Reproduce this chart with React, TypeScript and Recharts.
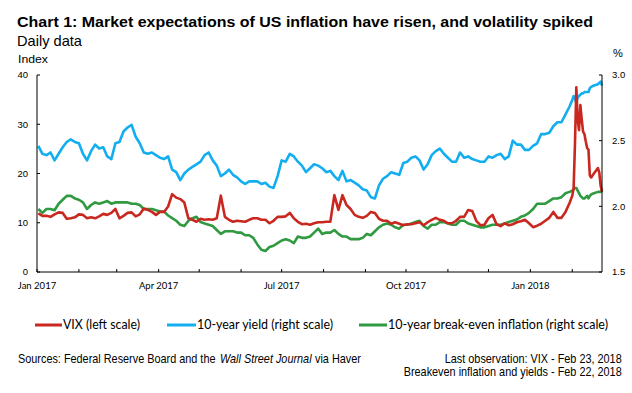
import { LineChart, Line, XAxis, YAxis } from 'recharts';

// day 0 = 1 Jan 2017
const days = [
  1, 4, 7, 10, 13, 16, 19, 22, 25, 28, 31, 34, 37, 40, 43, 46, 49, 52, 55, 58,
  61, 64, 67, 70, 73, 76, 79, 82, 85, 88, 91, 94, 97, 100, 103, 106, 109, 112,
  115, 118, 121, 124, 127, 130, 133, 136, 139, 142, 145, 148, 151, 154, 157, 160,
  163, 166, 169, 172, 175, 178, 181, 184, 187, 190, 193, 196, 199, 202, 205, 208, 211, 214,
  217, 220, 223, 226, 229, 232, 235, 238, 241, 244, 247, 250, 253, 256, 259, 262,
  265, 268, 271, 274, 277, 280, 283, 286, 289, 292, 295, 298, 301, 304, 307, 310, 313, 316,
  319, 322, 325, 328, 331, 334, 337, 340, 343, 346, 349, 352, 355, 358, 361, 364,
  367, 370, 373, 376, 379, 382, 385, 388, 391,
  394, 396, 397, 398, 399, 400, 401, 402, 403, 404, 405, 406, 407, 408, 409, 410,
  412, 415, 416, 417, 418,
];

const vix = [
  11.9, 11.4, 11.4, 11.2, 11.7, 12.1, 12.0, 10.8, 10.9, 11.1,
  11.7, 11.6, 10.9, 11.1, 10.9, 11.3, 11.8, 11.6, 12.0, 12.8,
  10.9, 11.4, 12.0, 12.1, 11.3, 11.7, 12.9, 12.6, 12.2, 11.6,
  12.2, 12.2, 13.3, 15.8, 15.1, 14.8, 14.1, 10.9,
  10.6, 10.2, 10.8, 10.6, 10.7, 10.6, 10.9, 15.5, 11.2, 10.6,
  10.2, 10.4, 10.3, 10.2, 10.6, 10.9, 10.9, 10.6, 10.6, 9.9,
  10.4, 11.2, 11.2, 11.3, 12.0, 10.9, 10.2, 9.7, 9.8, 9.6,
  9.9, 10.1, 10.1, 10.2,
  10.2, 15.6, 12.6, 15.6, 13.6, 12.8, 11.6, 11.2, 11.0, 11.4,
  12.2, 12.0, 10.8, 10.4, 10.4, 9.8, 10.1, 9.8, 9.5, 9.7,
  9.7, 9.9, 10.1, 9.5, 10.1, 10.6, 11.0, 10.6, 10.4, 9.9,
  9.9, 10.4, 11.2, 11.2,
  12.6, 12.4, 10.4, 9.5, 9.6, 10.9, 11.6, 9.7, 9.3, 9.9,
  9.5, 9.7, 10.1, 10.3, 10.6, 9.9, 9.1, 9.4, 9.8, 10.4,
  11.0, 12.2, 11.0, 11.0, 12.2,
  14.0, 15.5, 17.0, 26.0, 37.5, 31.0, 28.8, 33.9, 31.0, 28.5,
  28.0, 26.5, 25.2, 24.8, 19.6, 19.2, 20.0, 21.1, 20.2, 17.5,
  16.3,
];

const tenYearYield = [
  2.46, 2.40, 2.39, 2.41, 2.35, 2.40, 2.45, 2.49, 2.51, 2.49,
  2.48, 2.40, 2.35, 2.42, 2.47, 2.44, 2.45, 2.38, 2.36, 2.48,
  2.49, 2.57, 2.60, 2.62, 2.53, 2.48, 2.41, 2.40, 2.41, 2.39,
  2.37, 2.36, 2.38, 2.28, 2.26, 2.20, 2.25, 2.28,
  2.30, 2.32, 2.34, 2.39, 2.41, 2.35, 2.31, 2.23, 2.25, 2.28,
  2.24, 2.22, 2.19, 2.17, 2.19, 2.19, 2.19, 2.17, 2.18, 2.15,
  2.14, 2.23, 2.35, 2.34, 2.40, 2.38, 2.34, 2.31, 2.26, 2.29,
  2.32, 2.31, 2.29, 2.26,
  2.27, 2.23, 2.20, 2.27, 2.19, 2.20, 2.18, 2.16, 2.13, 2.12,
  2.07, 2.06, 2.16, 2.21, 2.23, 2.26, 2.25, 2.24, 2.33, 2.34,
  2.37, 2.38, 2.35, 2.28, 2.32, 2.39, 2.42, 2.44, 2.40, 2.37,
  2.34, 2.34, 2.41, 2.37,
  2.38, 2.36, 2.35, 2.34, 2.34, 2.38, 2.37, 2.39, 2.40, 2.36,
  2.38, 2.50, 2.47, 2.47, 2.43, 2.43, 2.46, 2.48, 2.55, 2.55,
  2.56, 2.61, 2.64, 2.64, 2.70,
  2.76, 2.81, 2.84, 2.82, 2.79, 2.83, 2.84, 2.85, 2.86, 2.86,
  2.87, 2.87, 2.87, 2.87, 2.90, 2.91, 2.92, 2.93, 2.94, 2.95,
  2.92,
];

const breakeven = [
  1.98, 1.95, 1.98, 1.98, 1.97, 2.02, 2.05, 2.08, 2.08, 2.06,
  2.05, 2.03, 1.98, 2.01, 2.03, 2.02, 2.03, 2.04, 2.02, 2.03,
  2.03, 2.03, 2.03, 2.02, 2.02, 2.01, 1.98, 1.98, 1.98, 1.97,
  1.96, 1.96, 1.93, 1.91, 1.89, 1.86, 1.85, 1.89,
  1.91, 1.92, 1.88, 1.87, 1.86, 1.85, 1.82, 1.79, 1.81, 1.81,
  1.81, 1.80, 1.80, 1.78, 1.78, 1.76, 1.71, 1.67, 1.66, 1.69,
  1.70, 1.72, 1.74, 1.75, 1.74, 1.72, 1.77, 1.76, 1.76, 1.77,
  1.80, 1.83, 1.79, 1.80,
  1.80, 1.82, 1.79, 1.77, 1.77, 1.75, 1.75, 1.75, 1.76, 1.79,
  1.78, 1.81, 1.84, 1.86, 1.87, 1.86, 1.84, 1.83, 1.86, 1.86,
  1.87, 1.88, 1.89, 1.85, 1.83, 1.86, 1.86, 1.88, 1.88, 1.87,
  1.86, 1.86, 1.89, 1.89,
  1.87, 1.86, 1.85, 1.84, 1.84, 1.85, 1.86, 1.86, 1.86, 1.87,
  1.88, 1.89, 1.90, 1.92, 1.93, 1.95, 1.98, 2.02, 2.02, 2.02,
  2.04, 2.06, 2.06, 2.07, 2.10,
  2.11, 2.12, 2.13, 2.14, 2.14, 2.12, 2.10, 2.08, 2.07, 2.06,
  2.06, 2.07, 2.08, 2.06, 2.08, 2.09, 2.10, 2.11, 2.11, 2.11,
  2.12,
];

// month starts (days since 1 Jan 2017)
const monthTicks = [0, 31, 59, 90, 120, 151, 181, 212, 243, 273, 304, 334, 365, 396];
const labelDays = [0, 90, 181, 273, 365];
const labelNames = ['Jan 2017', 'Apr 2017', 'Jul 2017', 'Oct 2017', 'Jan 2018'];
const leftTicks = [0, 10, 20, 30, 40];
const rightTicks = [1.5, 2.0, 2.5, 3.0];

const seriesNames = ['VIX (left scale)', '10-year yield (right scale)', '10-year break-even inflation (right scale)'];

const RED = '#c8281f';
const BLUE = '#12aef0';
const GREEN = '#2f9a40';

const data = days.map((d, i) => ({
  day: d,
  vix: vix[i],
  yld: tenYearYield[i],
  be: breakeven[i],
}));

const tickFont = { fontSize: 9.5, fill: '#000', fontFamily: 'Lato, "Liberation Sans", sans-serif' };
const numFont = { fontSize: 9.5, fill: '#000', fontFamily: '"Liberation Sans", Arial, sans-serif' };

// legend layout: [line start, text start, text width]
const legendLayout = [
  [35, 63, 77],
  [167, 197, 136],
  [359, 388, 220],
];
const legendColors = [RED, BLUE, GREEN];

// the source notes are set in a narrow face; squeeze Arial instead
const SQUEEZE = 0.87;

function Overlay() {
  return (
    <svg width={632} height={393} style={{ position: 'absolute', left: 0, top: 0, pointerEvents: 'none' }}>
      <g fontFamily='"Liberation Sans", Arial, sans-serif' fill="#000">
        <text x={17} y={27.3} fontSize={15.5} fontWeight="bold" textLength={576} lengthAdjust="spacingAndGlyphs">
          Chart 1: Market expectations of US inflation have risen, and volatility spiked
        </text>
        <text x={17} y={45.7} fontSize={14.8} textLength={65} lengthAdjust="spacingAndGlyphs">Daily data</text>
        <text x={18} y={63.3} fontSize={11.3} textLength={30} lengthAdjust="spacingAndGlyphs">Index</text>
        <text x={613} y={57.3} fontSize={11}>%</text>

        {seriesNames.map((name, i) => {
          const [lx, tx, tw] = legendLayout[i];
          return (
            <g key={name}>
              <line x1={lx} x2={tx - 1} y1={325} y2={325} stroke={legendColors[i]} strokeWidth={3} />
              <text x={tx} y={329} fontSize={12.5} fontFamily="Lato, sans-serif" textLength={tw} lengthAdjust="spacingAndGlyphs">
                {name}
              </text>
            </g>
          );
        })}

        <g fontSize={12.5} transform={`translate(18 0) scale(${SQUEEZE} 1)`}>
          <text x={0} y={362.7}>Sources: Federal Reserve Board and the</text>
          <text x={(220 - 18) / SQUEEZE} y={362.7} fontStyle="italic">Wall Street Journal</text>
          <text x={(315 - 18) / SQUEEZE} y={362.7}>via Haver</text>
        </g>
        <g fontSize={12.5} transform={`translate(621.7 0) scale(${SQUEEZE} 1)`}>
          <text x={0} y={362.7} textAnchor="end">Last observation: VIX - Feb 23, 2018</text>
          <text x={0} y={376.3} textAnchor="end">Breakeven inflation and yields - Feb 22, 2018</text>
        </g>
      </g>
    </svg>
  );
}

export default function App() {
  return (
    <div style={{ position: 'absolute', left: 0, top: 0, width: 632, height: 393, background: '#fff' }}>
      <LineChart
        width={632}
        height={393}
        data={data}
        margin={{ top: 75, right: 0, bottom: 91, left: 0 }}
        style={{ position: 'absolute', left: 0, top: 0 }}
      >
        <XAxis
          dataKey="day"
          type="number"
          domain={[0, 418]}
          ticks={monthTicks}
          interval={0}
          height={30}
          tickFormatter={(d: number) => {
            const k = labelDays.indexOf(d);
            return k >= 0 ? labelNames[k] : '';
          }}
          stroke="#000"
          tickSize={-3}
          tickMargin={13}
          tick={tickFont}
        />
        <YAxis
          yAxisId="left"
          orientation="left"
          width={37}
          domain={[0, 40]}
          ticks={leftTicks}
          interval={0}
          stroke="#000"
          tickSize={-3}
          tickMargin={12}
          tick={numFont}
        />
        <YAxis
          yAxisId="right"
          orientation="right"
          width={30}
          domain={[1.5, 3.0]}
          ticks={rightTicks}
          interval={0}
          tickFormatter={(v: number) => v.toFixed(1)}
          stroke="#000"
          tickSize={-3}
          tickMargin={13}
          tick={numFont}
        />
        <Line yAxisId="right" dataKey="yld" stroke={BLUE} strokeWidth={2.6} dot={false} isAnimationActive={false} strokeLinejoin="round" />
        <Line yAxisId="right" dataKey="be" stroke={GREEN} strokeWidth={2.6} dot={false} isAnimationActive={false} strokeLinejoin="round" />
        <Line yAxisId="left" dataKey="vix" stroke={RED} strokeWidth={2.6} dot={false} isAnimationActive={false} strokeLinejoin="round" />
      </LineChart>
      <Overlay />
    </div>
  );
}
